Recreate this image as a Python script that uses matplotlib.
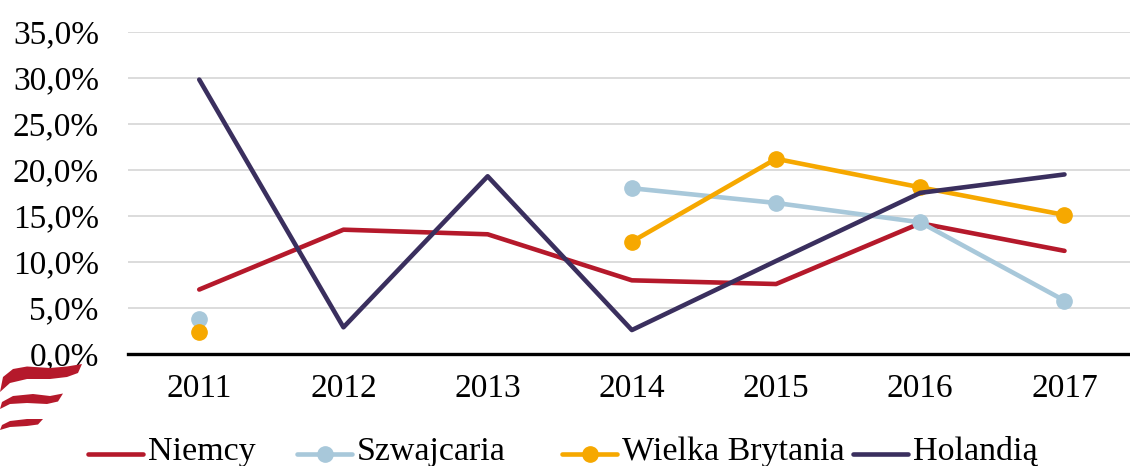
import numpy as np
import matplotlib
matplotlib.use("Agg")
import matplotlib.pyplot as plt
from matplotlib.lines import Line2D
from matplotlib.patches import Polygon

years = ["2011", "2012", "2013", "2014", "2015", "2016", "2017"]
niemcy = [7.0, 13.5, 13.0, 8.0, 7.6, 14.2, 11.2]
szwajcaria = [3.8, np.nan, np.nan, 18.0, 16.4, 14.3, 5.8]
wielka_brytania = [2.4, np.nan, np.nan, 12.2, 21.2, 18.1, 15.1]
holandia = [29.8, 2.9, 19.3, 2.6, 10.1, 17.5, 19.5]
series_names = ["Niemcy", "Szwajcaria", "Wielka Brytania", "Holandią"]
yticks = [0, 5, 10, 15, 20, 25, 30, 35]

colors = ["#B5192B", "#A8C8DA", "#F6A800", "#3A2F5E"]
markers = [None, "o", "o", None]

plt.rcParams['font.family'] = ['Liberation Serif', 'DejaVu Serif']

W, H = 1130, 466
fig = plt.figure(figsize=(W / 100, H / 100), dpi=100)
ax = fig.add_axes([128 / W, (H - 354) / H, 1 - 128 / W, (354 - 31.7) / H])

x = np.arange(len(years))
data = [niemcy, szwajcaria, wielka_brytania, holandia]
for vals, c, m in zip(data, colors, markers):
    ax.plot(x, vals, color=c, lw=3.3, marker=m, markersize=11,
            solid_capstyle='round', zorder=3)

ax.set_ylim(0, 35)
ax.set_xlim(-0.494, (W - 199.3) / 144.2)
ax.set_yticks(yticks)
ax.set_yticklabels([f"{v:.1f}".replace(".", ",") + "%" for v in yticks])
ax.set_xticks(x)
ax.set_xticklabels(years)
ax.tick_params(axis='y', length=0, pad=21, labelsize=24)
ax.tick_params(axis='x', length=0, pad=14, labelsize=24)
ax.grid(axis='y', color='#D9D9D9', lw=1.3, zorder=0)
for s in ['top', 'right', 'left']:
    ax.spines[s].set_visible(False)
ax.spines['bottom'].set_color('black')
ax.spines['bottom'].set_linewidth(2.4)
ax.spines['bottom'].set_zorder(4)
ax.set_axisbelow(True)

# manual legend
leg_x = [88, 297, 562, 853]
leg_y = 454
for name, c, m, lx in zip(series_names, colors, markers, leg_x):
    fx0, fx1 = lx / W, (lx + 55) / W
    fy = (H - leg_y) / H
    fig.add_artist(Line2D([fx0, fx1], [fy, fy], color=c, lw=3.3,
                          solid_capstyle='round', transform=fig.transFigure))
    if m:
        fig.add_artist(Line2D([(fx0 + fx1) / 2], [fy], color=c, marker=m,
                              markersize=11, transform=fig.transFigure))
    fig.text((lx + 60) / W, (H - 460) / H, name, fontsize=24.5,
             ha='left', va='baseline', color='black')

# logo (decorative swooshes)
logo_color = "#B5192B"
def swoosh(top, bottom):
    pts = list(top) + list(reversed(bottom))
    poly = Polygon([(px / W, (H - py) / H) for px, py in pts], closed=True,
                   facecolor=logo_color, edgecolor='none',
                   transform=fig.transFigure)
    fig.add_artist(poly)

swoosh([(3, 377), (13, 369), (27, 366.5), (50, 368), (67, 366.5), (82, 364)],
       [(0, 392), (10, 383), (27, 379), (50, 379), (67, 377), (78, 373), (82, 364)])
swoosh([(2, 402), (13, 396), (33, 394), (50, 396), (63, 393.5)],
       [(0, 409), (10, 404), (27, 403), (47, 404), (58, 401.5), (63, 393.5)])
swoosh([(2, 425), (10, 421), (27, 419), (43, 419)],
       [(0, 430), (10, 427), (27, 426), (38, 424.5), (43, 419)])

fig.savefig("out.png", dpi=100)
